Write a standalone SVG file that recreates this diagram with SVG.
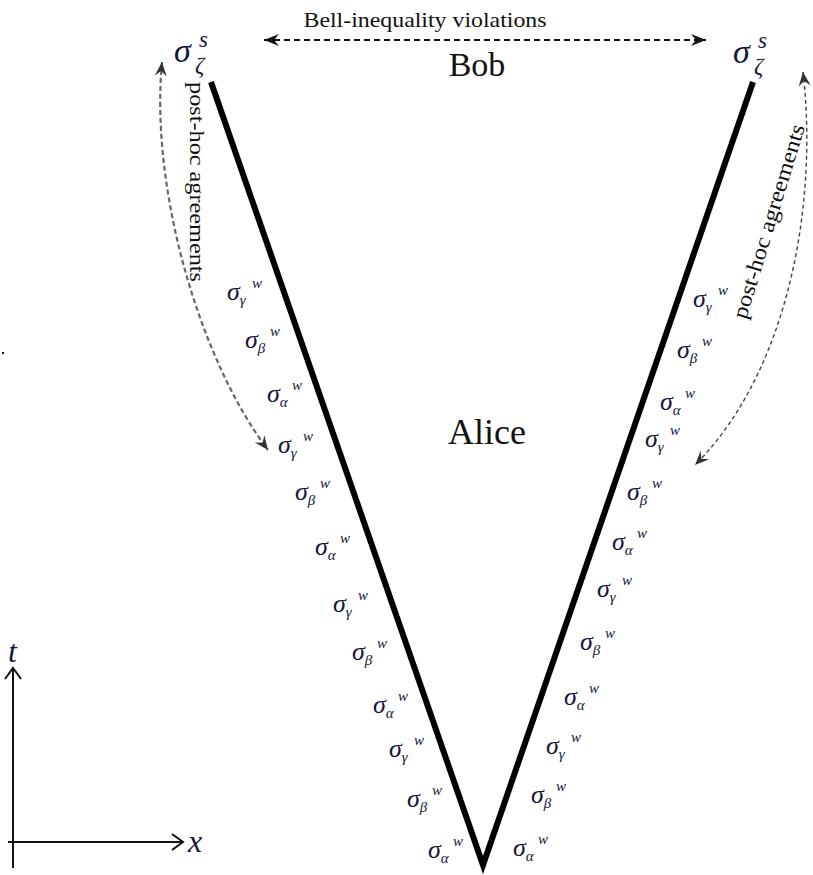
<svg xmlns="http://www.w3.org/2000/svg" width="813" height="875" viewBox="0 0 813 875">
<style>
.serif{font-family:"Liberation Serif","Times New Roman","DejaVu Serif",serif;fill:#111}
.sg{font-family:"Liberation Serif","Times New Roman","DejaVu Serif",serif;font-style:italic;font-size:26px;fill:#16163a}
.sub{font-size:15px}
.sup{font-size:15px}
.big{font-family:"Liberation Serif","Times New Roman","DejaVu Serif",serif;font-style:italic;fill:#16163a}
.dash1{fill:none;stroke:#111;stroke-width:2;stroke-dasharray:6 4}
.dash2{fill:none;stroke:#666;stroke-width:2.2;stroke-dasharray:5 3}
.dash3{fill:none;stroke:#444;stroke-width:1.4;stroke-dasharray:4 3}
.axis{fill:none;stroke:#111;stroke-width:2}
</style>
<defs>
<marker id="barb" viewBox="-16 -8 18 16" markerWidth="18" markerHeight="16" refX="0" refY="0" orient="auto-start-reverse" markerUnits="userSpaceOnUse">
<path d="M0,0 L-15,-6 L-10,0 L-15,6 Z" fill="#111"/>
</marker>
<marker id="barbg" viewBox="-16 -8 18 16" markerWidth="18" markerHeight="16" refX="0" refY="0" orient="auto-start-reverse" markerUnits="userSpaceOnUse">
<path d="M0,0 L-14,-6 L-9,0 L-14,6 Z" fill="#333"/>
</marker>
<marker id="chev" viewBox="-13 -9 15 18" markerWidth="15" markerHeight="18" refX="0" refY="0" orient="auto" markerUnits="userSpaceOnUse">
<path d="M-11,-8 L0,0 L-11,8" fill="none" stroke="#111" stroke-width="2"/>
</marker>
</defs>
<rect width="813" height="875" fill="#fff"/>

<g id="worldlines">
<path d="M211,82 L483,865 L753,82" fill="none" stroke="#000" stroke-width="6" stroke-linejoin="miter"/>
</g>

<g id="connectors">
<line class="dash1" x1="264" y1="40" x2="706" y2="40" marker-start="url(#barb)" marker-end="url(#barb)"/>
<path class="dash2" d="M162,62 C150,190 200,360 268,450" marker-start="url(#barbg)" marker-end="url(#barbg)"/>
<path class="dash3" d="M803,72 C818,200 790,370 695,465" marker-start="url(#barbg)" marker-end="url(#barbg)"/>
</g>

<g id="labels-top">
<text class="serif" x="425" y="27" font-size="22" text-anchor="middle" textLength="243" lengthAdjust="spacingAndGlyphs">Bell-inequality violations</text>
<text class="serif" x="477" y="76" font-size="34" text-anchor="middle">Bob</text>
<text class="serif" x="487" y="444" font-size="36" text-anchor="middle">Alice</text>
<text class="serif" font-size="22" transform="translate(190,82) rotate(90)" textLength="200" lengthAdjust="spacingAndGlyphs">post-hoc agreements</text>
<text class="serif" font-size="22" transform="translate(746,320) rotate(-73)" textLength="202" lengthAdjust="spacingAndGlyphs">post-hoc agreements</text>
</g>

<g id="node-bob-left">
<text class="big" x="174" y="62" font-size="34">σ<tspan x="199" dy="-15" font-size="23">s</tspan><tspan x="195" dy="26" font-size="23">ζ</tspan></text>
</g>
<g id="node-bob-right">
<text class="big" x="733" y="63" font-size="34">σ<tspan x="758" dy="-15" font-size="23">s</tspan><tspan x="754" dy="26" font-size="23">ζ</tspan></text>
</g>

<g id="left-events">
<text class="sg" x="227" y="300">σ<tspan class="sub" dy="5">γ</tspan><tspan class="sup" x="252" dy="-17">w</tspan></text>
<text class="sg" x="245" y="348">σ<tspan class="sub" dy="5">β</tspan><tspan class="sup" x="270" dy="-17">w</tspan></text>
<text class="sg" x="267" y="402">σ<tspan class="sub" dy="5">α</tspan><tspan class="sup" x="292" dy="-17">w</tspan></text>
<text class="sg" x="278" y="453">σ<tspan class="sub" dy="5">γ</tspan><tspan class="sup" x="303" dy="-17">w</tspan></text>
<text class="sg" x="295" y="500">σ<tspan class="sub" dy="5">β</tspan><tspan class="sup" x="320" dy="-17">w</tspan></text>
<text class="sg" x="315" y="555">σ<tspan class="sub" dy="5">α</tspan><tspan class="sup" x="340" dy="-17">w</tspan></text>
<text class="sg" x="333" y="612">σ<tspan class="sub" dy="5">γ</tspan><tspan class="sup" x="358" dy="-17">w</tspan></text>
<text class="sg" x="352" y="660">σ<tspan class="sub" dy="5">β</tspan><tspan class="sup" x="377" dy="-17">w</tspan></text>
<text class="sg" x="373" y="713">σ<tspan class="sub" dy="5">α</tspan><tspan class="sup" x="398" dy="-17">w</tspan></text>
<text class="sg" x="389" y="757">σ<tspan class="sub" dy="5">γ</tspan><tspan class="sup" x="414" dy="-17">w</tspan></text>
<text class="sg" x="407" y="807">σ<tspan class="sub" dy="5">β</tspan><tspan class="sup" x="432" dy="-17">w</tspan></text>
<text class="sg" x="428" y="858">σ<tspan class="sub" dy="5">α</tspan><tspan class="sup" x="453" dy="-17">w</tspan></text>
</g>

<g id="right-events">
<text class="sg" x="693" y="307">σ<tspan class="sub" dy="5">γ</tspan><tspan class="sup" x="718" dy="-17">w</tspan></text>
<text class="sg" x="677" y="358">σ<tspan class="sub" dy="5">β</tspan><tspan class="sup" x="702" dy="-17">w</tspan></text>
<text class="sg" x="660" y="410">σ<tspan class="sub" dy="5">α</tspan><tspan class="sup" x="685" dy="-17">w</tspan></text>
<text class="sg" x="645" y="447">σ<tspan class="sub" dy="5">γ</tspan><tspan class="sup" x="670" dy="-17">w</tspan></text>
<text class="sg" x="627" y="500">σ<tspan class="sub" dy="5">β</tspan><tspan class="sup" x="652" dy="-17">w</tspan></text>
<text class="sg" x="612" y="550">σ<tspan class="sub" dy="5">α</tspan><tspan class="sup" x="637" dy="-17">w</tspan></text>
<text class="sg" x="597" y="597">σ<tspan class="sub" dy="5">γ</tspan><tspan class="sup" x="622" dy="-17">w</tspan></text>
<text class="sg" x="580" y="650">σ<tspan class="sub" dy="5">β</tspan><tspan class="sup" x="605" dy="-17">w</tspan></text>
<text class="sg" x="564" y="705">σ<tspan class="sub" dy="5">α</tspan><tspan class="sup" x="589" dy="-17">w</tspan></text>
<text class="sg" x="546" y="754">σ<tspan class="sub" dy="5">γ</tspan><tspan class="sup" x="571" dy="-17">w</tspan></text>
<text class="sg" x="531" y="803">σ<tspan class="sub" dy="5">β</tspan><tspan class="sup" x="556" dy="-17">w</tspan></text>
<text class="sg" x="513" y="856">σ<tspan class="sub" dy="5">α</tspan><tspan class="sup" x="538" dy="-17">w</tspan></text>
</g>

<g id="axes">
<line class="axis" x1="13" y1="868" x2="13" y2="668" marker-end="url(#chev)"/>
<line class="axis" x1="8" y1="842" x2="183" y2="842" marker-end="url(#chev)"/>
<text class="big" x="8" y="662" font-size="32">t</text>
<text class="big" x="188" y="852" font-size="32">x</text>
</g>

<rect x="2" y="352" width="2" height="2" fill="#000"/>
</svg>
